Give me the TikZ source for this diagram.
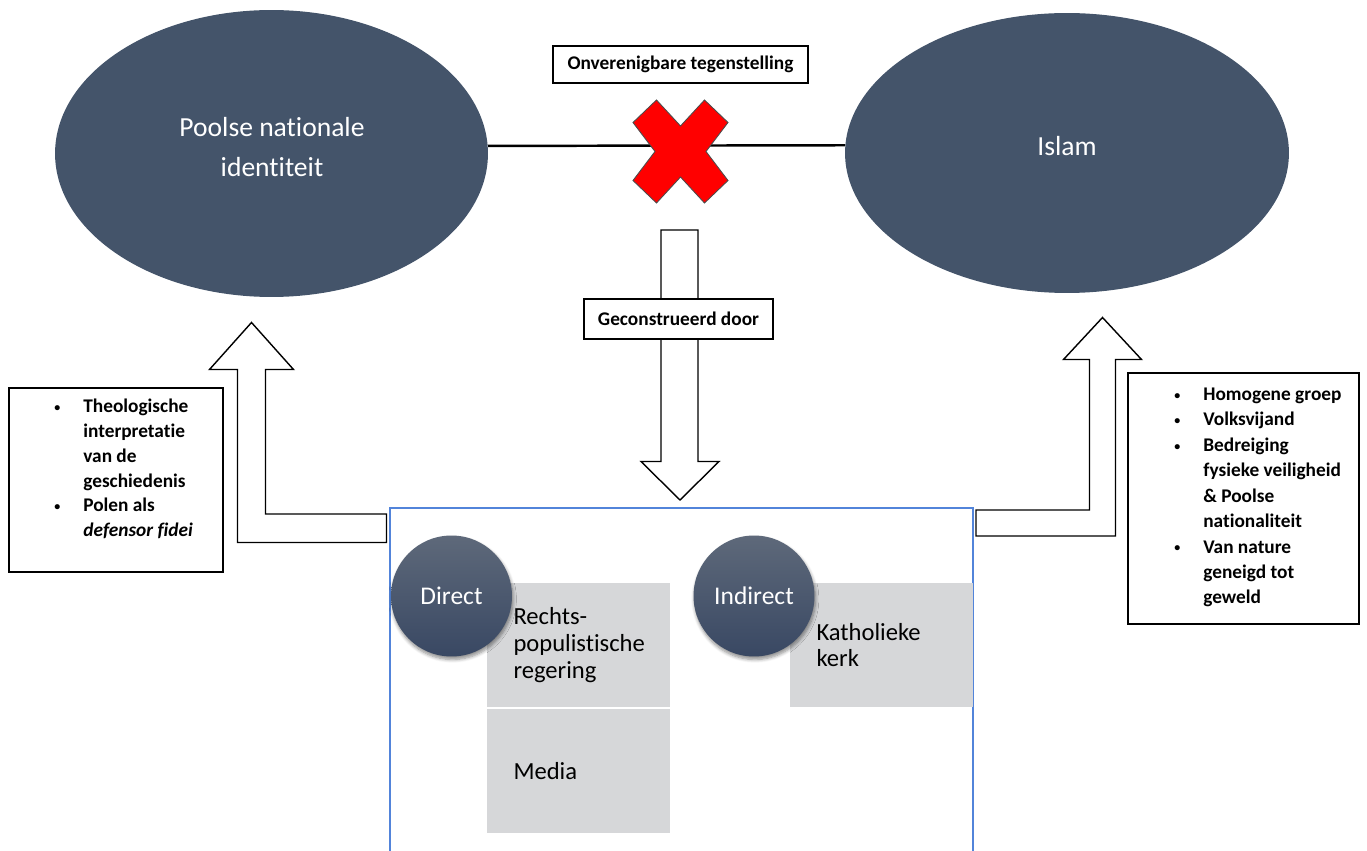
\documentclass[tikz,border=0pt]{standalone}
\usepackage{fontspec}
\setmainfont[Ligatures={NoCommon,NoContextual}]{Carlito}
\usetikzlibrary{shapes.geometric,shadows.blur}
\definecolor{bolblauw}{RGB}{68,84,106}
\definecolor{cirkelboven}{RGB}{94,105,122}
\definecolor{cirkelonder}{RGB}{57,72,99}
\definecolor{vakgrijs}{RGB}{214,215,217}
\definecolor{kaderblauw}{RGB}{82,132,218}
\definecolor{kruisrood}{RGB}{255,0,0}
\newcommand{\stip}{\raisebox{0.12ex}{\scalebox{0.62}{\textbullet}}}

\begin{document}
\begin{tikzpicture}[x=0.02cm,y=-0.02cm,
		bol/.style={ellipse, fill=bolblauw, inner sep=0pt},
		boltekst/.style={text=white, align=center, inner sep=0pt, font=\fontsize{15.7}{23}\selectfont},
		kopbox/.style={draw, line width=0.9pt, fill=white, inner sep=0pt, font=\bfseries\fontsize{11}{13}\selectfont},
		lijstbox/.style={draw, line width=0.9pt, fill=white, inner sep=0pt},
		lijst/.style={anchor=north west, inner sep=0pt, align=left},
		pijl/.style={draw, line width=0.8pt, fill=white},
		cirkel/.style={circle, minimum size=2.42cm, inner sep=0pt, top color=cirkelboven, bottom color=cirkelonder, text=white, font=\fontsize{14.5}{16}\selectfont, blur shadow={shadow xshift=0.02cm, shadow yshift=-0.06cm, shadow blur steps=6, shadow opacity=45}},
		vak/.style={fill=vakgrijs, minimum width=3.66cm, minimum height=2.48cm, text width=2.6cm, inner xsep=0.53cm, align=left, font=\fontsize{14}{15.3}\selectfont}]

		\useasboundingbox (0,0) rectangle (1367,851);

		% de twee polen
		\node (poolse) at (271.5,153.5) [bol, minimum width=8.66cm, minimum height=5.74cm] {};
		\node (islam) at (1067,153) [bol, minimum width=8.88cm, minimum height=5.6cm] {};
		\node (poolsetekst) at (272,147) [boltekst] {Poolse nationale\\identiteit};
		\node (islamtekst) at (1067,146) [boltekst] {Islam};
		\draw[line width=1.4pt] (poolse.2) -- (islam.178);

		\node (tegen) at (680.5,64.5) [kopbox, minimum width=5.1cm, minimum height=0.74cm] {Onverenigbare tegenstelling};

		\begin{scope}[shift={(680.5,151.5)}]
			\draw[fill=kruisrood, draw=black!70, line width=0.5pt] (-24,-51.5) -- (0,-25.5) -- (24,-51.5) -- (47.5,-29) -- (25.5,0) -- (47.5,29) -- (24,51.5) -- (0,25.5) -- (-24,51.5) -- (-47.5,29) -- (-25.5,0) -- (-47.5,-29) -- cycle;
		\end{scope}

		% blokpijlen
		\draw[pijl] (661,230) -- (698,230) -- (698,461.5) -- (719,461.5) -- (680,500) -- (641,461.5) -- (661,461.5) -- cycle;
		\draw[pijl] (386.5,514) -- (265.5,514) -- (265.5,369.5) -- (293.5,369.5) -- (251.5,322.5) -- (209.5,369.5) -- (237.5,369.5) -- (237.5,542.5) -- (386.5,542.5) -- cycle;
		\draw[pijl] (976,510) -- (1089.5,510) -- (1089.5,359.5) -- (1063.5,359.5) -- (1102.5,317.5) -- (1141.5,359.5) -- (1115.5,359.5) -- (1115.5,536) -- (976,536) -- cycle;

		\node (door) at (678.5,319) [kopbox, minimum width=3.78cm, minimum height=0.8cm] {Geconstrueerd door};

		% kenmerken links en rechts
		\node (links) at (116,480) [lijstbox, minimum width=4.28cm, minimum height=3.68cm] {};
		\node (linkstekst) at (54,395) [lijst] {\bfseries\fontsize{11}{14.1}\selectfont
			\begin{tabular}{@{}p{0.58cm}@{}l@{}}
				\stip & Theologische\\
				& interpretatie\\
				& van de\\
				& geschiedenis\\
				\stip & Polen als\\
				& \textit{defensor fidei}
			\end{tabular}};

		\node (rechts) at (1243.5,498.5) [lijstbox, minimum width=4.62cm, minimum height=5.02cm] {};
		\node (rechtstekst) at (1174,382) [lijst] {\bfseries\fontsize{11}{14.5}\selectfont
			\begin{tabular}{@{}p{0.58cm}@{}l@{}}
				\stip & Homogene groep\\
				\stip & Volksvijand\\
				\stip & Bedreiging\\
				& fysieke veiligheid\\
				& \& Poolse\\
				& nationaliteit\\
				\stip & Van nature\\
				& geneigd tot\\
				& geweld
			\end{tabular}};

		% actoren
		\draw[kaderblauw, line width=0.6pt] (390,851) -- (390,508) -- (973,508) -- (973,851);

		\node (regering) at (578.5,645) [vak] {Rechts-\\populistische\\regering};
		\node (media) at (578.5,771) [vak] {Media};
		\node (kerk) at (881.5,645) [vak] {Katholieke\\kerk};

		\node (direct) at (451.5,596) [cirkel] {Direct};
		\node (indirect) at (754,596) [cirkel] {Indirect};

	\end{tikzpicture}
\end{document}
